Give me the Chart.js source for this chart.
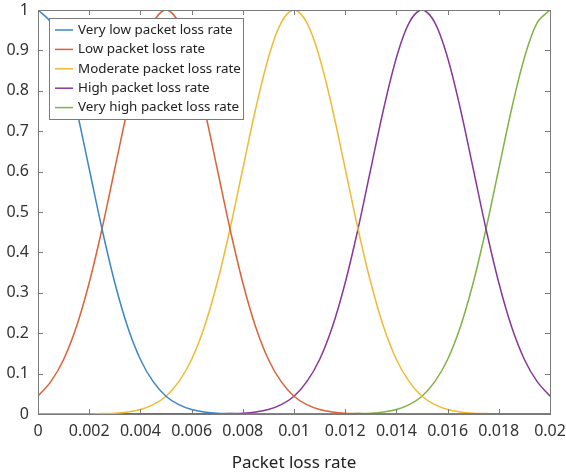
<!DOCTYPE html>
<html lang="en">
<head>
    <meta charset="UTF-8">
    <title>packet loss rate</title>
    <script src="https://cdn.jsdelivr.net/npm/chart.js"></script>
    <style>
        html, body { margin: 0; padding: 0; background: #fff; }
        canvas { display: block; }
    </style>
</head>
<body>
    <canvas id="myChart" width="566" height="473"></canvas>
    <script>
        // x positions (packet loss rate), step 0.0005
        const xValues = [0, 0.0005, 0.001, 0.0015, 0.002, 0.0025, 0.003, 0.0035, 0.004, 0.0045,
            0.005, 0.0055, 0.006, 0.0065, 0.007, 0.0075, 0.008, 0.0085, 0.009, 0.0095,
            0.01, 0.0105, 0.011, 0.0115, 0.012, 0.0125, 0.013, 0.0135, 0.014, 0.0145,
            0.015, 0.0155, 0.016, 0.0165, 0.017, 0.0175, 0.018, 0.0185, 0.019, 0.0195, 0.02];

        const veryLow = [1, .969, .882, .755, .607, .458, .325, .216, .135, .080,
            .044, .023, .011, .005, .002, .001, 0, 0, 0, 0,
            0, 0, 0, 0, 0, 0, 0, 0, 0, 0,
            0, 0, 0, 0, 0, 0, 0, 0, 0, 0, 0];
        const low = [.044, .080, .135, .216, .325, .458, .607, .755, .882, .969,
            1, .969, .882, .755, .607, .458, .325, .216, .135, .080,
            .044, .023, .011, .005, .002, .001, 0, 0, 0, 0,
            0, 0, 0, 0, 0, 0, 0, 0, 0, 0, 0];
        const moderate = [0, 0, 0, 0, 0, .001, .002, .005, .011, .023,
            .044, .080, .135, .216, .325, .458, .607, .755, .882, .969,
            1, .969, .882, .755, .607, .458, .325, .216, .135, .080,
            .044, .023, .011, .005, .002, .001, 0, 0, 0, 0, 0];
        const high = [0, 0, 0, 0, 0, 0, 0, 0, 0, 0,
            0, 0, 0, 0, 0, .001, .002, .005, .011, .023,
            .044, .080, .135, .216, .325, .458, .607, .755, .882, .969,
            1, .969, .882, .755, .607, .458, .325, .216, .135, .080, .044];
        const veryHigh = [0, 0, 0, 0, 0, 0, 0, 0, 0, 0,
            0, 0, 0, 0, 0, 0, 0, 0, 0, 0,
            0, 0, 0, 0, 0, .001, .002, .005, .011, .023,
            .044, .080, .135, .216, .325, .458, .607, .755, .882, .969, 1];

        const seriesNames = ["Very low packet loss rate", "Low packet loss rate", "Moderate packet loss rate",
            "High packet loss rate", "Very high packet loss rate"];
        const xTicks = [0, 0.002, 0.004, 0.006, 0.008, 0.01, 0.012, 0.014, 0.016, 0.018, 0.02];
        const yTicks = [0, 0.1, 0.2, 0.3, 0.4, 0.5, 0.6, 0.7, 0.8, 0.9, 1];

        const colors = ["#3b86c8", "#dc6236", "#eebb33", "#86389a", "#80b244"];
        const FONT = '"Noto Sans", "DejaVu Sans", sans-serif';

        const allSeries = [veryLow, low, moderate, high, veryHigh];
        const datasets = allSeries.map((vals, i) => ({
            label: seriesNames[i],
            data: vals.map((v, j) => ({ x: xValues[j], y: v })),
            borderColor: colors[i],
            backgroundColor: colors[i],
            borderWidth: 1.5,
            pointRadius: 0,
            fill: false,
            tension: 0.35,
        }));

        function fmt(v) {
            return String(parseFloat(Number(v).toFixed(4)));
        }

        // box, inward ticks and legend like a matlab figure
        const boxPlugin = {
            id: 'box',
            afterDraw(chart) {
                const ctx = chart.ctx;
                const a = chart.chartArea;
                const xs = chart.scales.x, ys = chart.scales.y;
                ctx.save();
                ctx.strokeStyle = '#7a7a7a';
                ctx.lineWidth = 1;
                ctx.strokeRect(Math.round(a.left) + 0.5, Math.round(a.top) + 0.5,
                    Math.round(a.right - a.left), Math.round(a.bottom - a.top));
                const tl = 5;
                ctx.beginPath();
                xTicks.forEach(t => {
                    const px = Math.round(xs.getPixelForValue(t)) + 0.5;
                    ctx.moveTo(px, a.bottom); ctx.lineTo(px, a.bottom - tl);
                    ctx.moveTo(px, a.top); ctx.lineTo(px, a.top + tl);
                });
                yTicks.forEach(t => {
                    const py = Math.round(ys.getPixelForValue(t)) + 0.5;
                    ctx.moveTo(a.left, py); ctx.lineTo(a.left + tl, py);
                    ctx.moveTo(a.right, py); ctx.lineTo(a.right - tl, py);
                });
                ctx.stroke();

                // legend
                const lx = a.left + 11, ly = a.top + 8, lw = 194, lh = 101;
                ctx.fillStyle = '#fff';
                ctx.fillRect(lx, ly, lw, lh);
                ctx.strokeStyle = '#7a7a7a';
                ctx.strokeRect(lx + 0.5, ly + 0.5, lw, lh);
                ctx.font = '13.4px ' + FONT;
                ctx.textBaseline = 'middle';
                ctx.textAlign = 'left';
                seriesNames.forEach((name, i) => {
                    const y = ly + 12 + i * 19.4;
                    ctx.strokeStyle = colors[i];
                    ctx.lineWidth = 1.5;
                    ctx.beginPath();
                    ctx.moveTo(lx + 6, y); ctx.lineTo(lx + 24, y);
                    ctx.stroke();
                    ctx.fillStyle = '#222';
                    ctx.fillText(name, lx + 29, y);
                });
                ctx.restore();
            }
        };

        new Chart("myChart", {
            type: "line",
            data: { datasets: datasets },
            options: {
                responsive: false,
                animation: false,
                devicePixelRatio: 1,
                layout: { padding: { left: 0, top: 10, right: 16, bottom: 0 } },
                plugins: {
                    legend: { display: false },
                    tooltip: { enabled: false },
                },
                scales: {
                    x: {
                        type: 'linear',
                        min: 0,
                        max: 0.02,
                        grid: { display: false, drawTicks: false },
                        border: { display: false },
                        afterBuildTicks: s => { s.ticks = xTicks.map(v => ({ value: v })); },
                        afterFit: s => { s.height = 59; s.paddingLeft = 0; s.paddingRight = 0; },
                        ticks: {
                            padding: 8,
                            color: '#333',
                            font: { family: FONT, size: 16 },
                            callback: v => fmt(v),
                            maxRotation: 0,
                            autoSkip: false,
                        },
                        title: {
                            display: true,
                            text: 'Packet loss rate',
                            color: '#222',
                            font: { family: FONT, size: 17 },
                            padding: { top: 6, bottom: 0 },
                        }
                    },
                    y: {
                        min: 0,
                        max: 1,
                        grid: { display: false, drawTicks: false },
                        border: { display: false },
                        afterBuildTicks: s => { s.ticks = yTicks.map(v => ({ value: v })); },
                        afterFit: s => { s.width = 38; s.paddingTop = 0; s.paddingBottom = 0; },
                        ticks: {
                            padding: 9,
                            color: '#333',
                            font: { family: FONT, size: 16 },
                            callback: v => fmt(v),
                            autoSkip: false,
                        }
                    }
                }
            },
            plugins: [boxPlugin]
        });
    </script>
</body>
</html>
